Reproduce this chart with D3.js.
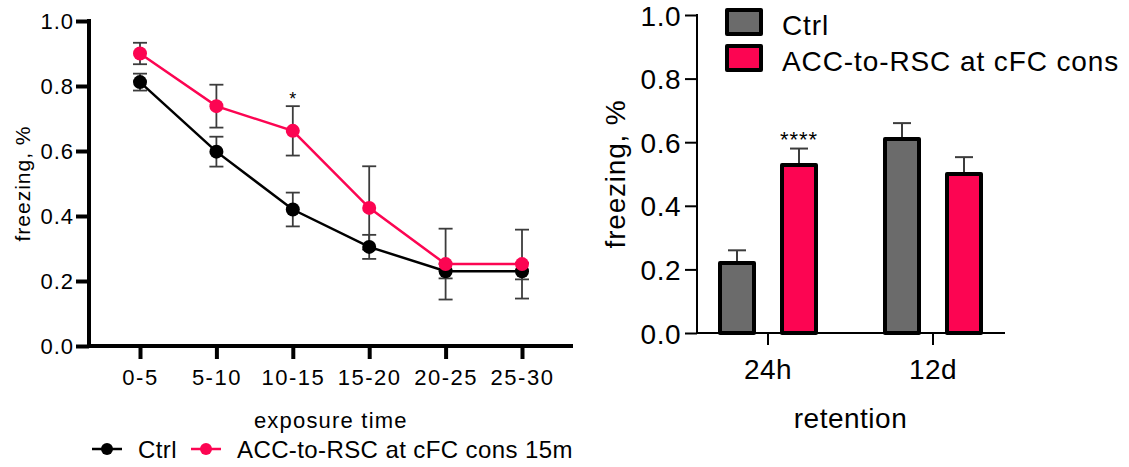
<!DOCTYPE html>
<html>
<head>
<meta charset="utf-8">
<script src="https://cdn.jsdelivr.net/npm/d3@7"></script>
<style>
  body { margin: 0; background: #fff; }
  svg text { font-family: "Liberation Sans", Arial, sans-serif; fill: #000; }
</style>
</head>
<body>
<svg id="fig"></svg>
<script>
var width = 1129;
var height = 467;

// left panel: freezing over exposure time
var timeBins = ["0-5", "5-10", "10-15", "15-20", "20-25", "25-30"];
var ctrlMean = [0.812, 0.598, 0.42, 0.305, 0.23, 0.23];
var ctrlErr = [0.026, 0.046, 0.052, 0.037, 0.022, 0.025];
var accMean = [0.90, 0.738, 0.662, 0.425, 0.252, 0.252];
var accErr = [0.033, 0.066, 0.076, 0.128, 0.109, 0.106];
var lineStars = ["", "", "*", "", "", ""];
var lineLegend = ["Ctrl", "ACC-to-RSC at cFC cons 15m"];

// right panel: retention
var retention = ["24h", "12d"];
var barGroups = ["Ctrl", "ACC-to-RSC at cFC cons"];
var barCtrl = [0.22, 0.61];
var barCtrlErr = [0.04, 0.05];
var barAcc = [0.528, 0.50];
var barAccErr = [0.052, 0.053];
var barStars = ["****", ""];

var yTicks = [0, 0.2, 0.4, 0.6, 0.8, 1.0];

var red = "#fc0552";
var grey = "#6b6b6b";
var errCol = "#3c3c3c";

var svg = d3.select('#fig')
    .attr('width', width)
    .attr('height', height);

// ---------- left panel ----------
var xL = d3.scalePoint().domain(timeBins).range([140, 522]);
var yL = d3.scaleLinear().domain([0, 1]).range([346, 21]);

var gL = svg.append('g');

var yAxisL = gL.append('g')
    .attr('transform', 'translate(89,0)')
    .call(d3.axisLeft(yL).tickValues(yTicks).tickFormat(d3.format('.1f')).tickSize(13).tickSizeOuter(0));
yAxisL.select('.domain').remove();
yAxisL.selectAll('line').attr('stroke', '#000').attr('stroke-width', 4);
yAxisL.selectAll('text').attr('x', -15).attr('dy', '0.36em')
    .style('font-size', '22px').style('letter-spacing', '1px');

var xAxisL = gL.append('g')
    .attr('transform', 'translate(0,346)')
    .call(d3.axisBottom(xL).tickSize(13).tickSizeOuter(0));
xAxisL.select('.domain').remove();
xAxisL.selectAll('line').attr('stroke', '#000').attr('stroke-width', 4);
xAxisL.selectAll('text').attr('y', 23).attr('dy', '0.71em')
    .style('font-size', '22px').style('letter-spacing', '1.5px');

gL.append('line').attr('x1', 89).attr('x2', 573).attr('y1', 346).attr('y2', 346)
    .attr('stroke', '#000').attr('stroke-width', 4);
gL.append('line').attr('x1', 89).attr('x2', 89).attr('y1', 19).attr('y2', 348)
    .attr('stroke', '#000').attr('stroke-width', 4);

gL.append('text')
    .attr('transform', 'translate(30,' + yL(0.5) + ') rotate(-90)')
    .attr('text-anchor', 'middle')
    .style('font-size', '21px').style('letter-spacing', '1px')
    .text('freezing, %');

gL.append('text')
    .attr('x', xL("10-15") + 38).attr('y', 428)
    .attr('text-anchor', 'middle')
    .style('font-size', '22px').style('letter-spacing', '1.2px')
    .text('exposure time');

var lineSeries = [
    {mean: ctrlMean, err: ctrlErr, color: '#000'},
    {mean: accMean, err: accErr, color: red}
];

var line = d3.line()
    .x(function(d, i){ return xL(timeBins[i]); })
    .y(function(d){ return yL(d); });

lineSeries.forEach(function(s){
    var eb = gL.append('g');
    s.mean.forEach(function(m, i){
        var x = xL(timeBins[i]);
        eb.append('line').attr('x1', x).attr('x2', x)
            .attr('y1', yL(m - s.err[i])).attr('y2', yL(m + s.err[i]))
            .attr('stroke', errCol).attr('stroke-width', 1.8);
        [m - s.err[i], m + s.err[i]].forEach(function(v){
            eb.append('line').attr('x1', x - 7).attr('x2', x + 7)
                .attr('y1', yL(v)).attr('y2', yL(v))
                .attr('stroke', errCol).attr('stroke-width', 1.8);
        });
    });
});

lineSeries.forEach(function(s){
    gL.append('path')
        .datum(s.mean)
        .attr('d', line)
        .attr('fill', 'none')
        .attr('stroke', s.color)
        .attr('stroke-width', 2.5);
    gL.selectAll(null)
        .data(s.mean)
        .enter()
        .append('circle')
        .attr('cx', function(d, i){ return xL(timeBins[i]); })
        .attr('cy', function(d){ return yL(d); })
        .attr('r', 7)
        .attr('fill', s.color);
});

gL.selectAll(null)
    .data(lineStars)
    .enter()
    .append('text')
    .attr('x', function(d, i){ return xL(timeBins[i]); })
    .attr('y', function(d, i){ return yL(accMean[i] + accErr[i]) - 1; })
    .attr('text-anchor', 'middle')
    .style('font-size', '18px')
    .text(function(d){ return d; });

// legend under left panel
var legL = gL.append('g');
var legLx = [92, 191];
lineSeries.forEach(function(s, i){
    legL.append('line').attr('x1', legLx[i]).attr('x2', legLx[i] + 30)
        .attr('y1', 449).attr('y2', 449)
        .attr('stroke', s.color).attr('stroke-width', 2.5);
    legL.append('circle').attr('cx', legLx[i] + 15).attr('cy', 449).attr('r', 6)
        .attr('fill', s.color);
    legL.append('text').attr('x', legLx[i] + 46).attr('y', 458)
        .style('font-size', '24px').style('letter-spacing', '0.4px')
        .text(lineLegend[i]);
});

// ---------- right panel ----------
var x0 = d3.scaleBand().domain(retention).range([685.5, 1015.5]);
var x1 = d3.scalePoint().domain(barGroups).range([-31, 31]);
var yR = d3.scaleLinear().domain([0, 1]).range([333, 15]);
var barW = 34;

var gR = svg.append('g');

var yAxisR = gR.append('g')
    .attr('transform', 'translate(697,0)')
    .call(d3.axisLeft(yR).tickValues(yTicks).tickFormat(d3.format('.1f')).tickSize(12).tickSizeOuter(0));
yAxisR.select('.domain').remove();
yAxisR.selectAll('line').attr('stroke', '#000').attr('stroke-width', 2);
yAxisR.selectAll('text').attr('x', -16).attr('dy', '0.36em')
    .style('font-size', '28px').style('letter-spacing', '0.5px');

var xAxisR = gR.append('g')
    .attr('transform', 'translate(0,333)')
    .call(d3.axisBottom(x0).tickSize(12).tickSizeOuter(0));
xAxisR.select('.domain').remove();
xAxisR.selectAll('line').attr('stroke', '#000').attr('stroke-width', 2);
xAxisR.selectAll('text').attr('y', 26).attr('dy', '0.71em')
    .style('font-size', '28px').style('letter-spacing', '0.5px');

gR.append('line').attr('x1', 697).attr('x2', 1005).attr('y1', 333).attr('y2', 333)
    .attr('stroke', '#000').attr('stroke-width', 2);
gR.append('line').attr('x1', 697).attr('x2', 697).attr('y1', 14).attr('y2', 334)
    .attr('stroke', '#000').attr('stroke-width', 2);

gR.append('text')
    .attr('transform', 'translate(625,' + yR(0.5) + ') rotate(-90)')
    .attr('text-anchor', 'middle')
    .style('font-size', '28px').style('letter-spacing', '0.8px')
    .text('freezing, %');

gR.append('text')
    .attr('x', (x0("24h") + x0("12d")) / 2 + x0.bandwidth() / 2).attr('y', 428)
    .attr('text-anchor', 'middle')
    .style('font-size', '28px').style('letter-spacing', '0.5px')
    .text('retention');

var barSeries = [
    {name: barGroups[0], mean: barCtrl, err: barCtrlErr, color: grey},
    {name: barGroups[1], mean: barAcc, err: barAccErr, color: red}
];

barSeries.forEach(function(s){
    s.mean.forEach(function(m, i){
        var cx = x0(retention[i]) + x0.bandwidth() / 2 + x1(s.name);
        gR.append('line').attr('x1', cx).attr('x2', cx)
            .attr('y1', yR(m)).attr('y2', yR(m + s.err[i]))
            .attr('stroke', errCol).attr('stroke-width', 2);
        gR.append('line').attr('x1', cx - 9).attr('x2', cx + 9)
            .attr('y1', yR(m + s.err[i])).attr('y2', yR(m + s.err[i]))
            .attr('stroke', errCol).attr('stroke-width', 2);
    });
    gR.selectAll(null)
        .data(s.mean)
        .enter()
        .append('rect')
        .attr('x', function(d, i){ return x0(retention[i]) + x0.bandwidth() / 2 + x1(s.name) - barW / 2; })
        .attr('y', function(d){ return yR(d); })
        .attr('width', barW)
        .attr('height', function(d){ return yR(0) - yR(d); })
        .attr('fill', s.color)
        .attr('stroke', '#000')
        .attr('stroke-width', 4)
        .attr('stroke-linejoin', 'round');
});

gR.selectAll(null)
    .data(barStars)
    .enter()
    .append('text')
    .attr('x', function(d, i){ return x0(retention[i]) + x0.bandwidth() / 2 + x1(barGroups[1]); })
    .attr('y', function(d, i){ return yR(barAcc[i] + barAccErr[i]) - 2; })
    .attr('text-anchor', 'middle')
    .style('font-size', '22px').style('letter-spacing', '1px')
    .text(function(d){ return d; });

// legend top right
var legR = gR.append('g');
barSeries.forEach(function(s, i){
    var y = 10 + i * 36;
    legR.append('rect').attr('x', 727).attr('y', y).attr('width', 34).attr('height', 24)
        .attr('fill', s.color).attr('stroke', '#000').attr('stroke-width', 4)
        .attr('stroke-linejoin', 'round');
    legR.append('text').attr('x', 782).attr('y', y + 25)
        .style('font-size', '28px').style('letter-spacing', '0.9px')
        .text(s.name);
});
</script>
</body>
</html>
